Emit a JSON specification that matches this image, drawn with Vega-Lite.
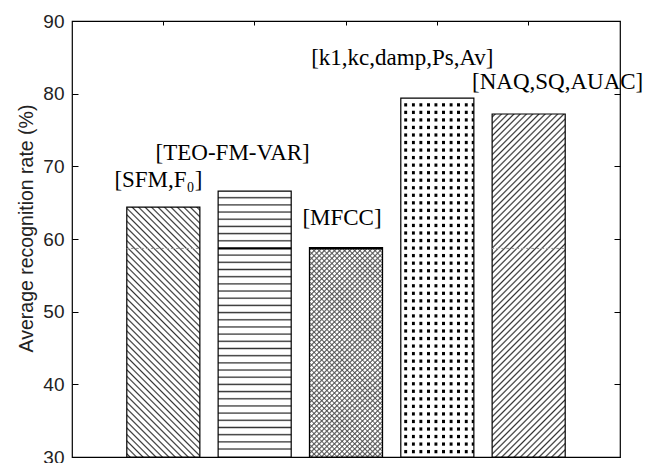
{
"$schema":"https://vega.github.io/schema/vega-lite/v6.json",
"width":548,"height":436,
"autosize":{"type":"none"},
"padding":{"left":72,"top":21,"right":25,"bottom":6},
"background":"white",
"data":{"values":[
{"cat":"SFM","label":"[SFM,F₀]","rate":64.4},
{"cat":"TEO","label":"[TEO-FM-VAR]","rate":66.6},
{"cat":"MFCC","label":"[MFCC]","rate":58.8},
{"cat":"k1","label":"[k1,kc,damp,Ps,Av]","rate":79.4},
{"cat":"NAQ","label":"[NAQ,SQ,AUAC]","rate":77.2}
]},
"encoding":{
"x":{"field":"cat","type":"nominal","sort":null,"scale":{"domain":["SFM","TEO","MFCC","k1","NAQ"],"paddingInner":0.2,"paddingOuter":0.6},"axis":null},
"y":{"field":"rate","type":"quantitative","scale":{"domain":[30,90],"nice":false,"zero":false},"axis":null}
},
"layer":[
{"transform":[{"filter":"datum.cat==='SFM'"}],
"mark":{"type":"bar","stroke":"black","strokeWidth":1.2,"fill":{"gradient":"linear","x1":0,"y1":1,"x2":0.348,"y2":-0.1906,"stops":[
{"offset":0.005,"color":"#fff"},{"offset":0.01,"color":"#333"},{"offset":0.015,"color":"#fff"},
{"offset":0.025,"color":"#fff"},{"offset":0.03,"color":"#333"},{"offset":0.035,"color":"#fff"},
{"offset":0.045,"color":"#fff"},{"offset":0.05,"color":"#333"},{"offset":0.055,"color":"#fff"},
{"offset":0.065,"color":"#fff"},{"offset":0.07,"color":"#333"},{"offset":0.075,"color":"#fff"},
{"offset":0.085,"color":"#fff"},{"offset":0.09,"color":"#333"},{"offset":0.095,"color":"#fff"},
{"offset":0.105,"color":"#fff"},{"offset":0.11,"color":"#333"},{"offset":0.115,"color":"#fff"},
{"offset":0.125,"color":"#fff"},{"offset":0.13,"color":"#333"},{"offset":0.135,"color":"#fff"},
{"offset":0.145,"color":"#fff"},{"offset":0.15,"color":"#333"},{"offset":0.155,"color":"#fff"},
{"offset":0.165,"color":"#fff"},{"offset":0.17,"color":"#333"},{"offset":0.175,"color":"#fff"},
{"offset":0.185,"color":"#fff"},{"offset":0.19,"color":"#333"},{"offset":0.195,"color":"#fff"},
{"offset":0.205,"color":"#fff"},{"offset":0.21,"color":"#333"},{"offset":0.215,"color":"#fff"},
{"offset":0.225,"color":"#fff"},{"offset":0.23,"color":"#333"},{"offset":0.235,"color":"#fff"},
{"offset":0.245,"color":"#fff"},{"offset":0.25,"color":"#333"},{"offset":0.255,"color":"#fff"},
{"offset":0.265,"color":"#fff"},{"offset":0.27,"color":"#333"},{"offset":0.275,"color":"#fff"},
{"offset":0.285,"color":"#fff"},{"offset":0.29,"color":"#333"},{"offset":0.295,"color":"#fff"},
{"offset":0.305,"color":"#fff"},{"offset":0.31,"color":"#333"},{"offset":0.315,"color":"#fff"},
{"offset":0.325,"color":"#fff"},{"offset":0.33,"color":"#333"},{"offset":0.335,"color":"#fff"},
{"offset":0.345,"color":"#fff"},{"offset":0.35,"color":"#333"},{"offset":0.355,"color":"#fff"},
{"offset":0.365,"color":"#fff"},{"offset":0.37,"color":"#333"},{"offset":0.375,"color":"#fff"},
{"offset":0.385,"color":"#fff"},{"offset":0.39,"color":"#333"},{"offset":0.395,"color":"#fff"},
{"offset":0.405,"color":"#fff"},{"offset":0.41,"color":"#333"},{"offset":0.415,"color":"#fff"},
{"offset":0.425,"color":"#fff"},{"offset":0.43,"color":"#333"},{"offset":0.435,"color":"#fff"},
{"offset":0.445,"color":"#fff"},{"offset":0.45,"color":"#333"},{"offset":0.455,"color":"#fff"},
{"offset":0.465,"color":"#fff"},{"offset":0.47,"color":"#333"},{"offset":0.475,"color":"#fff"},
{"offset":0.485,"color":"#fff"},{"offset":0.49,"color":"#333"},{"offset":0.495,"color":"#fff"},
{"offset":0.505,"color":"#fff"},{"offset":0.51,"color":"#333"},{"offset":0.515,"color":"#fff"},
{"offset":0.525,"color":"#fff"},{"offset":0.53,"color":"#333"},{"offset":0.535,"color":"#fff"},
{"offset":0.545,"color":"#fff"},{"offset":0.55,"color":"#333"},{"offset":0.555,"color":"#fff"},
{"offset":0.565,"color":"#fff"},{"offset":0.57,"color":"#333"},{"offset":0.575,"color":"#fff"},
{"offset":0.585,"color":"#fff"},{"offset":0.59,"color":"#333"},{"offset":0.595,"color":"#fff"},
{"offset":0.605,"color":"#fff"},{"offset":0.61,"color":"#333"},{"offset":0.615,"color":"#fff"},
{"offset":0.625,"color":"#fff"},{"offset":0.63,"color":"#333"},{"offset":0.635,"color":"#fff"},
{"offset":0.645,"color":"#fff"},{"offset":0.65,"color":"#333"},{"offset":0.655,"color":"#fff"},
{"offset":0.665,"color":"#fff"},{"offset":0.67,"color":"#333"},{"offset":0.675,"color":"#fff"},
{"offset":0.685,"color":"#fff"},{"offset":0.69,"color":"#333"},{"offset":0.695,"color":"#fff"},
{"offset":0.705,"color":"#fff"},{"offset":0.71,"color":"#333"},{"offset":0.715,"color":"#fff"},
{"offset":0.725,"color":"#fff"},{"offset":0.73,"color":"#333"},{"offset":0.735,"color":"#fff"},
{"offset":0.745,"color":"#fff"},{"offset":0.75,"color":"#333"},{"offset":0.755,"color":"#fff"},
{"offset":0.765,"color":"#fff"},{"offset":0.77,"color":"#333"},{"offset":0.775,"color":"#fff"},
{"offset":0.785,"color":"#fff"},{"offset":0.79,"color":"#333"},{"offset":0.795,"color":"#fff"},
{"offset":0.805,"color":"#fff"},{"offset":0.81,"color":"#333"},{"offset":0.815,"color":"#fff"},
{"offset":0.825,"color":"#fff"},{"offset":0.83,"color":"#333"},{"offset":0.835,"color":"#fff"},
{"offset":0.845,"color":"#fff"},{"offset":0.85,"color":"#333"},{"offset":0.855,"color":"#fff"},
{"offset":0.865,"color":"#fff"},{"offset":0.87,"color":"#333"},{"offset":0.875,"color":"#fff"},
{"offset":0.885,"color":"#fff"},{"offset":0.89,"color":"#333"},{"offset":0.895,"color":"#fff"},
{"offset":0.905,"color":"#fff"},{"offset":0.91,"color":"#333"},{"offset":0.915,"color":"#fff"},
{"offset":0.925,"color":"#fff"},{"offset":0.93,"color":"#333"},{"offset":0.935,"color":"#fff"},
{"offset":0.945,"color":"#fff"},{"offset":0.95,"color":"#333"},{"offset":0.955,"color":"#fff"},
{"offset":0.965,"color":"#fff"},{"offset":0.97,"color":"#333"},{"offset":0.975,"color":"#fff"},
{"offset":0.985,"color":"#fff"},{"offset":0.99,"color":"#333"},{"offset":0.995,"color":"#fff"}
]}},
"encoding":{
"x":{"field":"cat","type":"nominal","sort":null,"scale":{"domain":["SFM","TEO","MFCC","k1","NAQ"],"paddingInner":0.2,"paddingOuter":0.6},"axis":{"orient":"top","labels":false,"domain":false,"grid":false,"title":null,"tickSize":-4,"bandPosition":0.5,"tickColor":"black"}},
"y":{"field":"rate","type":"quantitative","scale":{"domain":[30,90],"nice":false,"zero":false},"axis":{"orient":"left","values":[30,40,50,60,70,80,90],"tickSize":-6,"tickColor":"black","domain":false,"grid":false,"labelPadding":14,"labelFont":"Liberation Sans","labelFontSize":19,"labelColor":"#222","title":"Average recognition rate (%)","titleFont":"Liberation Sans","titleFontSize":19.5,"titleFontWeight":"normal","titleColor":"#222","titlePadding":6,"titleY":207}},
"y2":{"datum":30}}},
{"transform":[{"filter":"datum.cat==='TEO'"}],
"mark":{"type":"bar","stroke":"black","strokeWidth":1.2,"fill":{"gradient":"linear","x1":0,"y1":0,"x2":0,"y2":1,"stops":[
{"offset":0.02,"color":"#fff"},{"offset":0.025,"color":"#333"},{"offset":0.03,"color":"#fff"},
{"offset":0.047,"color":"#fff"},{"offset":0.052,"color":"#333"},{"offset":0.057,"color":"#fff"},
{"offset":0.074,"color":"#fff"},{"offset":0.079,"color":"#333"},{"offset":0.084,"color":"#fff"},
{"offset":0.101,"color":"#fff"},{"offset":0.106,"color":"#333"},{"offset":0.111,"color":"#fff"},
{"offset":0.128,"color":"#fff"},{"offset":0.133,"color":"#333"},{"offset":0.138,"color":"#fff"},
{"offset":0.155,"color":"#fff"},{"offset":0.16,"color":"#333"},{"offset":0.165,"color":"#fff"},
{"offset":0.182,"color":"#fff"},{"offset":0.187,"color":"#333"},{"offset":0.192,"color":"#fff"},
{"offset":0.209,"color":"#fff"},{"offset":0.214,"color":"#333"},{"offset":0.219,"color":"#fff"},
{"offset":0.236,"color":"#fff"},{"offset":0.241,"color":"#333"},{"offset":0.246,"color":"#fff"},
{"offset":0.263,"color":"#fff"},{"offset":0.268,"color":"#333"},{"offset":0.273,"color":"#fff"},
{"offset":0.29,"color":"#fff"},{"offset":0.295,"color":"#333"},{"offset":0.3,"color":"#fff"},
{"offset":0.317,"color":"#fff"},{"offset":0.322,"color":"#333"},{"offset":0.327,"color":"#fff"},
{"offset":0.344,"color":"#fff"},{"offset":0.349,"color":"#333"},{"offset":0.354,"color":"#fff"},
{"offset":0.371,"color":"#fff"},{"offset":0.376,"color":"#333"},{"offset":0.381,"color":"#fff"},
{"offset":0.398,"color":"#fff"},{"offset":0.403,"color":"#333"},{"offset":0.408,"color":"#fff"},
{"offset":0.425,"color":"#fff"},{"offset":0.43,"color":"#333"},{"offset":0.435,"color":"#fff"},
{"offset":0.452,"color":"#fff"},{"offset":0.457,"color":"#333"},{"offset":0.462,"color":"#fff"},
{"offset":0.479,"color":"#fff"},{"offset":0.484,"color":"#333"},{"offset":0.489,"color":"#fff"},
{"offset":0.506,"color":"#fff"},{"offset":0.511,"color":"#333"},{"offset":0.516,"color":"#fff"},
{"offset":0.533,"color":"#fff"},{"offset":0.538,"color":"#333"},{"offset":0.543,"color":"#fff"},
{"offset":0.56,"color":"#fff"},{"offset":0.565,"color":"#333"},{"offset":0.57,"color":"#fff"},
{"offset":0.587,"color":"#fff"},{"offset":0.592,"color":"#333"},{"offset":0.597,"color":"#fff"},
{"offset":0.614,"color":"#fff"},{"offset":0.619,"color":"#333"},{"offset":0.624,"color":"#fff"},
{"offset":0.641,"color":"#fff"},{"offset":0.646,"color":"#333"},{"offset":0.651,"color":"#fff"},
{"offset":0.668,"color":"#fff"},{"offset":0.673,"color":"#333"},{"offset":0.678,"color":"#fff"},
{"offset":0.695,"color":"#fff"},{"offset":0.7,"color":"#333"},{"offset":0.705,"color":"#fff"},
{"offset":0.722,"color":"#fff"},{"offset":0.727,"color":"#333"},{"offset":0.732,"color":"#fff"},
{"offset":0.749,"color":"#fff"},{"offset":0.754,"color":"#333"},{"offset":0.759,"color":"#fff"},
{"offset":0.776,"color":"#fff"},{"offset":0.781,"color":"#333"},{"offset":0.786,"color":"#fff"},
{"offset":0.803,"color":"#fff"},{"offset":0.808,"color":"#333"},{"offset":0.813,"color":"#fff"},
{"offset":0.83,"color":"#fff"},{"offset":0.835,"color":"#333"},{"offset":0.84,"color":"#fff"},
{"offset":0.857,"color":"#fff"},{"offset":0.862,"color":"#333"},{"offset":0.867,"color":"#fff"},
{"offset":0.884,"color":"#fff"},{"offset":0.889,"color":"#333"},{"offset":0.894,"color":"#fff"},
{"offset":0.911,"color":"#fff"},{"offset":0.916,"color":"#333"},{"offset":0.921,"color":"#fff"},
{"offset":0.938,"color":"#fff"},{"offset":0.943,"color":"#333"},{"offset":0.948,"color":"#fff"},
{"offset":0.965,"color":"#fff"},{"offset":0.97,"color":"#333"},{"offset":0.975,"color":"#fff"}
]}},
"encoding":{
"y":{"field":"rate","type":"quantitative","scale":{"domain":[30,90],"nice":false,"zero":false},"axis":{"orient":"right","values":[30,40,50,60,70,80,90],"tickSize":-6,"tickColor":"black","labels":false,"domain":false,"grid":false,"title":null}},
"y2":{"datum":30}}},
{"transform":[{"filter":"datum.cat==='MFCC'"}],
"mark":{"type":"bar","strokeWidth":0,"fill":{"gradient":"linear","x1":0,"y1":1,"x2":0.4199,"y2":-0.2026,"stops":[
{"offset":0.004,"color":"#fff"},{"offset":0.009,"color":"#666"},{"offset":0.014,"color":"#fff"},
{"offset":0.022,"color":"#fff"},{"offset":0.027,"color":"#666"},{"offset":0.032,"color":"#fff"},
{"offset":0.04,"color":"#fff"},{"offset":0.045,"color":"#666"},{"offset":0.05,"color":"#fff"},
{"offset":0.058,"color":"#fff"},{"offset":0.063,"color":"#666"},{"offset":0.068,"color":"#fff"},
{"offset":0.076,"color":"#fff"},{"offset":0.081,"color":"#666"},{"offset":0.086,"color":"#fff"},
{"offset":0.094,"color":"#fff"},{"offset":0.099,"color":"#666"},{"offset":0.104,"color":"#fff"},
{"offset":0.112,"color":"#fff"},{"offset":0.117,"color":"#666"},{"offset":0.122,"color":"#fff"},
{"offset":0.13,"color":"#fff"},{"offset":0.135,"color":"#666"},{"offset":0.14,"color":"#fff"},
{"offset":0.148,"color":"#fff"},{"offset":0.153,"color":"#666"},{"offset":0.158,"color":"#fff"},
{"offset":0.166,"color":"#fff"},{"offset":0.171,"color":"#666"},{"offset":0.176,"color":"#fff"},
{"offset":0.184,"color":"#fff"},{"offset":0.189,"color":"#666"},{"offset":0.194,"color":"#fff"},
{"offset":0.202,"color":"#fff"},{"offset":0.207,"color":"#666"},{"offset":0.212,"color":"#fff"},
{"offset":0.22,"color":"#fff"},{"offset":0.225,"color":"#666"},{"offset":0.23,"color":"#fff"},
{"offset":0.238,"color":"#fff"},{"offset":0.243,"color":"#666"},{"offset":0.248,"color":"#fff"},
{"offset":0.256,"color":"#fff"},{"offset":0.261,"color":"#666"},{"offset":0.266,"color":"#fff"},
{"offset":0.274,"color":"#fff"},{"offset":0.279,"color":"#666"},{"offset":0.284,"color":"#fff"},
{"offset":0.292,"color":"#fff"},{"offset":0.297,"color":"#666"},{"offset":0.302,"color":"#fff"},
{"offset":0.31,"color":"#fff"},{"offset":0.315,"color":"#666"},{"offset":0.32,"color":"#fff"},
{"offset":0.328,"color":"#fff"},{"offset":0.333,"color":"#666"},{"offset":0.338,"color":"#fff"},
{"offset":0.346,"color":"#fff"},{"offset":0.351,"color":"#666"},{"offset":0.356,"color":"#fff"},
{"offset":0.364,"color":"#fff"},{"offset":0.369,"color":"#666"},{"offset":0.374,"color":"#fff"},
{"offset":0.382,"color":"#fff"},{"offset":0.387,"color":"#666"},{"offset":0.392,"color":"#fff"},
{"offset":0.4,"color":"#fff"},{"offset":0.405,"color":"#666"},{"offset":0.41,"color":"#fff"},
{"offset":0.418,"color":"#fff"},{"offset":0.423,"color":"#666"},{"offset":0.428,"color":"#fff"},
{"offset":0.436,"color":"#fff"},{"offset":0.441,"color":"#666"},{"offset":0.446,"color":"#fff"},
{"offset":0.454,"color":"#fff"},{"offset":0.459,"color":"#666"},{"offset":0.464,"color":"#fff"},
{"offset":0.472,"color":"#fff"},{"offset":0.477,"color":"#666"},{"offset":0.482,"color":"#fff"},
{"offset":0.49,"color":"#fff"},{"offset":0.495,"color":"#666"},{"offset":0.5,"color":"#fff"},
{"offset":0.508,"color":"#fff"},{"offset":0.513,"color":"#666"},{"offset":0.518,"color":"#fff"},
{"offset":0.526,"color":"#fff"},{"offset":0.531,"color":"#666"},{"offset":0.536,"color":"#fff"},
{"offset":0.544,"color":"#fff"},{"offset":0.549,"color":"#666"},{"offset":0.554,"color":"#fff"},
{"offset":0.562,"color":"#fff"},{"offset":0.567,"color":"#666"},{"offset":0.572,"color":"#fff"},
{"offset":0.58,"color":"#fff"},{"offset":0.585,"color":"#666"},{"offset":0.59,"color":"#fff"},
{"offset":0.598,"color":"#fff"},{"offset":0.603,"color":"#666"},{"offset":0.608,"color":"#fff"},
{"offset":0.616,"color":"#fff"},{"offset":0.621,"color":"#666"},{"offset":0.626,"color":"#fff"},
{"offset":0.634,"color":"#fff"},{"offset":0.639,"color":"#666"},{"offset":0.644,"color":"#fff"},
{"offset":0.652,"color":"#fff"},{"offset":0.657,"color":"#666"},{"offset":0.662,"color":"#fff"},
{"offset":0.67,"color":"#fff"},{"offset":0.675,"color":"#666"},{"offset":0.68,"color":"#fff"},
{"offset":0.688,"color":"#fff"},{"offset":0.693,"color":"#666"},{"offset":0.698,"color":"#fff"},
{"offset":0.706,"color":"#fff"},{"offset":0.711,"color":"#666"},{"offset":0.716,"color":"#fff"},
{"offset":0.724,"color":"#fff"},{"offset":0.729,"color":"#666"},{"offset":0.734,"color":"#fff"},
{"offset":0.742,"color":"#fff"},{"offset":0.747,"color":"#666"},{"offset":0.752,"color":"#fff"},
{"offset":0.76,"color":"#fff"},{"offset":0.765,"color":"#666"},{"offset":0.77,"color":"#fff"},
{"offset":0.778,"color":"#fff"},{"offset":0.783,"color":"#666"},{"offset":0.788,"color":"#fff"},
{"offset":0.796,"color":"#fff"},{"offset":0.801,"color":"#666"},{"offset":0.806,"color":"#fff"},
{"offset":0.814,"color":"#fff"},{"offset":0.819,"color":"#666"},{"offset":0.824,"color":"#fff"},
{"offset":0.832,"color":"#fff"},{"offset":0.837,"color":"#666"},{"offset":0.842,"color":"#fff"},
{"offset":0.85,"color":"#fff"},{"offset":0.855,"color":"#666"},{"offset":0.86,"color":"#fff"},
{"offset":0.868,"color":"#fff"},{"offset":0.873,"color":"#666"},{"offset":0.878,"color":"#fff"},
{"offset":0.886,"color":"#fff"},{"offset":0.891,"color":"#666"},{"offset":0.896,"color":"#fff"},
{"offset":0.904,"color":"#fff"},{"offset":0.909,"color":"#666"},{"offset":0.914,"color":"#fff"},
{"offset":0.922,"color":"#fff"},{"offset":0.927,"color":"#666"},{"offset":0.932,"color":"#fff"},
{"offset":0.94,"color":"#fff"},{"offset":0.945,"color":"#666"},{"offset":0.95,"color":"#fff"},
{"offset":0.958,"color":"#fff"},{"offset":0.963,"color":"#666"},{"offset":0.968,"color":"#fff"},
{"offset":0.976,"color":"#fff"},{"offset":0.981,"color":"#666"},{"offset":0.986,"color":"#fff"}
]}},
"encoding":{"y2":{"datum":30}}},
{"transform":[{"filter":"datum.cat==='MFCC'"}],
"mark":{"type":"bar","stroke":"black","strokeWidth":1.2,"fill":{"gradient":"linear","x1":0,"y1":0,"x2":0.4199,"y2":1.2026,"stops":[
{"offset":0.004,"color":"rgba(0,0,0,0)"},{"offset":0.009,"color":"#666"},{"offset":0.014,"color":"rgba(0,0,0,0)"},
{"offset":0.022,"color":"rgba(0,0,0,0)"},{"offset":0.027,"color":"#666"},{"offset":0.032,"color":"rgba(0,0,0,0)"},
{"offset":0.04,"color":"rgba(0,0,0,0)"},{"offset":0.045,"color":"#666"},{"offset":0.05,"color":"rgba(0,0,0,0)"},
{"offset":0.058,"color":"rgba(0,0,0,0)"},{"offset":0.063,"color":"#666"},{"offset":0.068,"color":"rgba(0,0,0,0)"},
{"offset":0.076,"color":"rgba(0,0,0,0)"},{"offset":0.081,"color":"#666"},{"offset":0.086,"color":"rgba(0,0,0,0)"},
{"offset":0.094,"color":"rgba(0,0,0,0)"},{"offset":0.099,"color":"#666"},{"offset":0.104,"color":"rgba(0,0,0,0)"},
{"offset":0.112,"color":"rgba(0,0,0,0)"},{"offset":0.117,"color":"#666"},{"offset":0.122,"color":"rgba(0,0,0,0)"},
{"offset":0.13,"color":"rgba(0,0,0,0)"},{"offset":0.135,"color":"#666"},{"offset":0.14,"color":"rgba(0,0,0,0)"},
{"offset":0.148,"color":"rgba(0,0,0,0)"},{"offset":0.153,"color":"#666"},{"offset":0.158,"color":"rgba(0,0,0,0)"},
{"offset":0.166,"color":"rgba(0,0,0,0)"},{"offset":0.171,"color":"#666"},{"offset":0.176,"color":"rgba(0,0,0,0)"},
{"offset":0.184,"color":"rgba(0,0,0,0)"},{"offset":0.189,"color":"#666"},{"offset":0.194,"color":"rgba(0,0,0,0)"},
{"offset":0.202,"color":"rgba(0,0,0,0)"},{"offset":0.207,"color":"#666"},{"offset":0.212,"color":"rgba(0,0,0,0)"},
{"offset":0.22,"color":"rgba(0,0,0,0)"},{"offset":0.225,"color":"#666"},{"offset":0.23,"color":"rgba(0,0,0,0)"},
{"offset":0.238,"color":"rgba(0,0,0,0)"},{"offset":0.243,"color":"#666"},{"offset":0.248,"color":"rgba(0,0,0,0)"},
{"offset":0.256,"color":"rgba(0,0,0,0)"},{"offset":0.261,"color":"#666"},{"offset":0.266,"color":"rgba(0,0,0,0)"},
{"offset":0.274,"color":"rgba(0,0,0,0)"},{"offset":0.279,"color":"#666"},{"offset":0.284,"color":"rgba(0,0,0,0)"},
{"offset":0.292,"color":"rgba(0,0,0,0)"},{"offset":0.297,"color":"#666"},{"offset":0.302,"color":"rgba(0,0,0,0)"},
{"offset":0.31,"color":"rgba(0,0,0,0)"},{"offset":0.315,"color":"#666"},{"offset":0.32,"color":"rgba(0,0,0,0)"},
{"offset":0.328,"color":"rgba(0,0,0,0)"},{"offset":0.333,"color":"#666"},{"offset":0.338,"color":"rgba(0,0,0,0)"},
{"offset":0.346,"color":"rgba(0,0,0,0)"},{"offset":0.351,"color":"#666"},{"offset":0.356,"color":"rgba(0,0,0,0)"},
{"offset":0.364,"color":"rgba(0,0,0,0)"},{"offset":0.369,"color":"#666"},{"offset":0.374,"color":"rgba(0,0,0,0)"},
{"offset":0.382,"color":"rgba(0,0,0,0)"},{"offset":0.387,"color":"#666"},{"offset":0.392,"color":"rgba(0,0,0,0)"},
{"offset":0.4,"color":"rgba(0,0,0,0)"},{"offset":0.405,"color":"#666"},{"offset":0.41,"color":"rgba(0,0,0,0)"},
{"offset":0.418,"color":"rgba(0,0,0,0)"},{"offset":0.423,"color":"#666"},{"offset":0.428,"color":"rgba(0,0,0,0)"},
{"offset":0.436,"color":"rgba(0,0,0,0)"},{"offset":0.441,"color":"#666"},{"offset":0.446,"color":"rgba(0,0,0,0)"},
{"offset":0.454,"color":"rgba(0,0,0,0)"},{"offset":0.459,"color":"#666"},{"offset":0.464,"color":"rgba(0,0,0,0)"},
{"offset":0.472,"color":"rgba(0,0,0,0)"},{"offset":0.477,"color":"#666"},{"offset":0.482,"color":"rgba(0,0,0,0)"},
{"offset":0.49,"color":"rgba(0,0,0,0)"},{"offset":0.495,"color":"#666"},{"offset":0.5,"color":"rgba(0,0,0,0)"},
{"offset":0.508,"color":"rgba(0,0,0,0)"},{"offset":0.513,"color":"#666"},{"offset":0.518,"color":"rgba(0,0,0,0)"},
{"offset":0.526,"color":"rgba(0,0,0,0)"},{"offset":0.531,"color":"#666"},{"offset":0.536,"color":"rgba(0,0,0,0)"},
{"offset":0.544,"color":"rgba(0,0,0,0)"},{"offset":0.549,"color":"#666"},{"offset":0.554,"color":"rgba(0,0,0,0)"},
{"offset":0.562,"color":"rgba(0,0,0,0)"},{"offset":0.567,"color":"#666"},{"offset":0.572,"color":"rgba(0,0,0,0)"},
{"offset":0.58,"color":"rgba(0,0,0,0)"},{"offset":0.585,"color":"#666"},{"offset":0.59,"color":"rgba(0,0,0,0)"},
{"offset":0.598,"color":"rgba(0,0,0,0)"},{"offset":0.603,"color":"#666"},{"offset":0.608,"color":"rgba(0,0,0,0)"},
{"offset":0.616,"color":"rgba(0,0,0,0)"},{"offset":0.621,"color":"#666"},{"offset":0.626,"color":"rgba(0,0,0,0)"},
{"offset":0.634,"color":"rgba(0,0,0,0)"},{"offset":0.639,"color":"#666"},{"offset":0.644,"color":"rgba(0,0,0,0)"},
{"offset":0.652,"color":"rgba(0,0,0,0)"},{"offset":0.657,"color":"#666"},{"offset":0.662,"color":"rgba(0,0,0,0)"},
{"offset":0.67,"color":"rgba(0,0,0,0)"},{"offset":0.675,"color":"#666"},{"offset":0.68,"color":"rgba(0,0,0,0)"},
{"offset":0.688,"color":"rgba(0,0,0,0)"},{"offset":0.693,"color":"#666"},{"offset":0.698,"color":"rgba(0,0,0,0)"},
{"offset":0.706,"color":"rgba(0,0,0,0)"},{"offset":0.711,"color":"#666"},{"offset":0.716,"color":"rgba(0,0,0,0)"},
{"offset":0.724,"color":"rgba(0,0,0,0)"},{"offset":0.729,"color":"#666"},{"offset":0.734,"color":"rgba(0,0,0,0)"},
{"offset":0.742,"color":"rgba(0,0,0,0)"},{"offset":0.747,"color":"#666"},{"offset":0.752,"color":"rgba(0,0,0,0)"},
{"offset":0.76,"color":"rgba(0,0,0,0)"},{"offset":0.765,"color":"#666"},{"offset":0.77,"color":"rgba(0,0,0,0)"},
{"offset":0.778,"color":"rgba(0,0,0,0)"},{"offset":0.783,"color":"#666"},{"offset":0.788,"color":"rgba(0,0,0,0)"},
{"offset":0.796,"color":"rgba(0,0,0,0)"},{"offset":0.801,"color":"#666"},{"offset":0.806,"color":"rgba(0,0,0,0)"},
{"offset":0.814,"color":"rgba(0,0,0,0)"},{"offset":0.819,"color":"#666"},{"offset":0.824,"color":"rgba(0,0,0,0)"},
{"offset":0.832,"color":"rgba(0,0,0,0)"},{"offset":0.837,"color":"#666"},{"offset":0.842,"color":"rgba(0,0,0,0)"},
{"offset":0.85,"color":"rgba(0,0,0,0)"},{"offset":0.855,"color":"#666"},{"offset":0.86,"color":"rgba(0,0,0,0)"},
{"offset":0.868,"color":"rgba(0,0,0,0)"},{"offset":0.873,"color":"#666"},{"offset":0.878,"color":"rgba(0,0,0,0)"},
{"offset":0.886,"color":"rgba(0,0,0,0)"},{"offset":0.891,"color":"#666"},{"offset":0.896,"color":"rgba(0,0,0,0)"},
{"offset":0.904,"color":"rgba(0,0,0,0)"},{"offset":0.909,"color":"#666"},{"offset":0.914,"color":"rgba(0,0,0,0)"},
{"offset":0.922,"color":"rgba(0,0,0,0)"},{"offset":0.927,"color":"#666"},{"offset":0.932,"color":"rgba(0,0,0,0)"},
{"offset":0.94,"color":"rgba(0,0,0,0)"},{"offset":0.945,"color":"#666"},{"offset":0.95,"color":"rgba(0,0,0,0)"},
{"offset":0.958,"color":"rgba(0,0,0,0)"},{"offset":0.963,"color":"#666"},{"offset":0.968,"color":"rgba(0,0,0,0)"},
{"offset":0.976,"color":"rgba(0,0,0,0)"},{"offset":0.981,"color":"#666"},{"offset":0.986,"color":"rgba(0,0,0,0)"}
]}},
"encoding":{"y2":{"datum":30}}},
{"transform":[{"filter":"datum.cat==='k1'"}],
"mark":{"type":"bar","strokeWidth":0,"fill":{"gradient":"linear","x1":0,"y1":0,"x2":0,"y2":1,"stops":[
{"offset":0.013,"color":"#fff"},{"offset":0.016,"color":"#000"},{"offset":0.022,"color":"#000"},{"offset":0.025,"color":"#fff"},
{"offset":0.034,"color":"#fff"},{"offset":0.037,"color":"#000"},{"offset":0.043,"color":"#000"},{"offset":0.046,"color":"#fff"},
{"offset":0.055,"color":"#fff"},{"offset":0.058,"color":"#000"},{"offset":0.064,"color":"#000"},{"offset":0.067,"color":"#fff"},
{"offset":0.076,"color":"#fff"},{"offset":0.079,"color":"#000"},{"offset":0.085,"color":"#000"},{"offset":0.088,"color":"#fff"},
{"offset":0.097,"color":"#fff"},{"offset":0.1,"color":"#000"},{"offset":0.106,"color":"#000"},{"offset":0.109,"color":"#fff"},
{"offset":0.118,"color":"#fff"},{"offset":0.121,"color":"#000"},{"offset":0.127,"color":"#000"},{"offset":0.13,"color":"#fff"},
{"offset":0.139,"color":"#fff"},{"offset":0.142,"color":"#000"},{"offset":0.148,"color":"#000"},{"offset":0.151,"color":"#fff"},
{"offset":0.16,"color":"#fff"},{"offset":0.163,"color":"#000"},{"offset":0.169,"color":"#000"},{"offset":0.172,"color":"#fff"},
{"offset":0.181,"color":"#fff"},{"offset":0.184,"color":"#000"},{"offset":0.19,"color":"#000"},{"offset":0.193,"color":"#fff"},
{"offset":0.202,"color":"#fff"},{"offset":0.205,"color":"#000"},{"offset":0.211,"color":"#000"},{"offset":0.214,"color":"#fff"},
{"offset":0.223,"color":"#fff"},{"offset":0.226,"color":"#000"},{"offset":0.232,"color":"#000"},{"offset":0.235,"color":"#fff"},
{"offset":0.244,"color":"#fff"},{"offset":0.247,"color":"#000"},{"offset":0.253,"color":"#000"},{"offset":0.256,"color":"#fff"},
{"offset":0.265,"color":"#fff"},{"offset":0.268,"color":"#000"},{"offset":0.274,"color":"#000"},{"offset":0.277,"color":"#fff"},
{"offset":0.286,"color":"#fff"},{"offset":0.289,"color":"#000"},{"offset":0.295,"color":"#000"},{"offset":0.298,"color":"#fff"},
{"offset":0.307,"color":"#fff"},{"offset":0.31,"color":"#000"},{"offset":0.316,"color":"#000"},{"offset":0.319,"color":"#fff"},
{"offset":0.328,"color":"#fff"},{"offset":0.331,"color":"#000"},{"offset":0.337,"color":"#000"},{"offset":0.34,"color":"#fff"},
{"offset":0.349,"color":"#fff"},{"offset":0.352,"color":"#000"},{"offset":0.358,"color":"#000"},{"offset":0.361,"color":"#fff"},
{"offset":0.37,"color":"#fff"},{"offset":0.373,"color":"#000"},{"offset":0.379,"color":"#000"},{"offset":0.382,"color":"#fff"},
{"offset":0.391,"color":"#fff"},{"offset":0.394,"color":"#000"},{"offset":0.4,"color":"#000"},{"offset":0.403,"color":"#fff"},
{"offset":0.412,"color":"#fff"},{"offset":0.415,"color":"#000"},{"offset":0.421,"color":"#000"},{"offset":0.424,"color":"#fff"},
{"offset":0.433,"color":"#fff"},{"offset":0.436,"color":"#000"},{"offset":0.442,"color":"#000"},{"offset":0.445,"color":"#fff"},
{"offset":0.454,"color":"#fff"},{"offset":0.457,"color":"#000"},{"offset":0.463,"color":"#000"},{"offset":0.466,"color":"#fff"},
{"offset":0.475,"color":"#fff"},{"offset":0.478,"color":"#000"},{"offset":0.484,"color":"#000"},{"offset":0.487,"color":"#fff"},
{"offset":0.496,"color":"#fff"},{"offset":0.499,"color":"#000"},{"offset":0.505,"color":"#000"},{"offset":0.508,"color":"#fff"},
{"offset":0.517,"color":"#fff"},{"offset":0.52,"color":"#000"},{"offset":0.526,"color":"#000"},{"offset":0.529,"color":"#fff"},
{"offset":0.538,"color":"#fff"},{"offset":0.541,"color":"#000"},{"offset":0.547,"color":"#000"},{"offset":0.55,"color":"#fff"},
{"offset":0.559,"color":"#fff"},{"offset":0.562,"color":"#000"},{"offset":0.568,"color":"#000"},{"offset":0.571,"color":"#fff"},
{"offset":0.58,"color":"#fff"},{"offset":0.583,"color":"#000"},{"offset":0.589,"color":"#000"},{"offset":0.592,"color":"#fff"},
{"offset":0.601,"color":"#fff"},{"offset":0.604,"color":"#000"},{"offset":0.61,"color":"#000"},{"offset":0.613,"color":"#fff"},
{"offset":0.622,"color":"#fff"},{"offset":0.625,"color":"#000"},{"offset":0.631,"color":"#000"},{"offset":0.634,"color":"#fff"},
{"offset":0.643,"color":"#fff"},{"offset":0.646,"color":"#000"},{"offset":0.652,"color":"#000"},{"offset":0.655,"color":"#fff"},
{"offset":0.664,"color":"#fff"},{"offset":0.667,"color":"#000"},{"offset":0.673,"color":"#000"},{"offset":0.676,"color":"#fff"},
{"offset":0.685,"color":"#fff"},{"offset":0.688,"color":"#000"},{"offset":0.694,"color":"#000"},{"offset":0.697,"color":"#fff"},
{"offset":0.706,"color":"#fff"},{"offset":0.709,"color":"#000"},{"offset":0.715,"color":"#000"},{"offset":0.718,"color":"#fff"},
{"offset":0.727,"color":"#fff"},{"offset":0.73,"color":"#000"},{"offset":0.736,"color":"#000"},{"offset":0.739,"color":"#fff"},
{"offset":0.748,"color":"#fff"},{"offset":0.751,"color":"#000"},{"offset":0.757,"color":"#000"},{"offset":0.76,"color":"#fff"},
{"offset":0.769,"color":"#fff"},{"offset":0.772,"color":"#000"},{"offset":0.778,"color":"#000"},{"offset":0.781,"color":"#fff"},
{"offset":0.79,"color":"#fff"},{"offset":0.793,"color":"#000"},{"offset":0.799,"color":"#000"},{"offset":0.802,"color":"#fff"},
{"offset":0.811,"color":"#fff"},{"offset":0.814,"color":"#000"},{"offset":0.82,"color":"#000"},{"offset":0.823,"color":"#fff"},
{"offset":0.832,"color":"#fff"},{"offset":0.835,"color":"#000"},{"offset":0.841,"color":"#000"},{"offset":0.844,"color":"#fff"},
{"offset":0.853,"color":"#fff"},{"offset":0.856,"color":"#000"},{"offset":0.862,"color":"#000"},{"offset":0.865,"color":"#fff"},
{"offset":0.874,"color":"#fff"},{"offset":0.877,"color":"#000"},{"offset":0.883,"color":"#000"},{"offset":0.886,"color":"#fff"},
{"offset":0.895,"color":"#fff"},{"offset":0.898,"color":"#000"},{"offset":0.904,"color":"#000"},{"offset":0.907,"color":"#fff"},
{"offset":0.916,"color":"#fff"},{"offset":0.919,"color":"#000"},{"offset":0.925,"color":"#000"},{"offset":0.928,"color":"#fff"},
{"offset":0.937,"color":"#fff"},{"offset":0.94,"color":"#000"},{"offset":0.946,"color":"#000"},{"offset":0.949,"color":"#fff"},
{"offset":0.958,"color":"#fff"},{"offset":0.961,"color":"#000"},{"offset":0.967,"color":"#000"},{"offset":0.97,"color":"#fff"},
{"offset":0.979,"color":"#fff"},{"offset":0.982,"color":"#000"},{"offset":0.988,"color":"#000"},{"offset":0.991,"color":"#fff"}
]}},
"encoding":{"y2":{"datum":30}}},
{"transform":[{"filter":"datum.cat==='k1'"}],
"mark":{"type":"bar","stroke":"black","strokeWidth":1.2,"fill":{"gradient":"linear","x1":0,"y1":0,"x2":1,"y2":0,"stops":[
{"offset":0.043,"color":"#fff"},{"offset":0.053,"color":"rgba(255,255,255,0)"},{"offset":0.083,"color":"rgba(255,255,255,0)"},{"offset":0.093,"color":"#fff"},
{"offset":0.146,"color":"#fff"},{"offset":0.156,"color":"rgba(255,255,255,0)"},{"offset":0.186,"color":"rgba(255,255,255,0)"},{"offset":0.196,"color":"#fff"},
{"offset":0.25,"color":"#fff"},{"offset":0.26,"color":"rgba(255,255,255,0)"},{"offset":0.29,"color":"rgba(255,255,255,0)"},{"offset":0.3,"color":"#fff"},
{"offset":0.353,"color":"#fff"},{"offset":0.363,"color":"rgba(255,255,255,0)"},{"offset":0.393,"color":"rgba(255,255,255,0)"},{"offset":0.403,"color":"#fff"},
{"offset":0.456,"color":"#fff"},{"offset":0.466,"color":"rgba(255,255,255,0)"},{"offset":0.496,"color":"rgba(255,255,255,0)"},{"offset":0.506,"color":"#fff"},
{"offset":0.56,"color":"#fff"},{"offset":0.57,"color":"rgba(255,255,255,0)"},{"offset":0.6,"color":"rgba(255,255,255,0)"},{"offset":0.61,"color":"#fff"},
{"offset":0.663,"color":"#fff"},{"offset":0.673,"color":"rgba(255,255,255,0)"},{"offset":0.703,"color":"rgba(255,255,255,0)"},{"offset":0.713,"color":"#fff"},
{"offset":0.766,"color":"#fff"},{"offset":0.776,"color":"rgba(255,255,255,0)"},{"offset":0.806,"color":"rgba(255,255,255,0)"},{"offset":0.816,"color":"#fff"},
{"offset":0.87,"color":"#fff"},{"offset":0.88,"color":"rgba(255,255,255,0)"},{"offset":0.91,"color":"rgba(255,255,255,0)"},{"offset":0.92,"color":"#fff"},
{"offset":0.965,"color":"#fff"},{"offset":0.975,"color":"rgba(255,255,255,0)"},{"offset":1,"color":"rgba(255,255,255,0)"}
]}},
"encoding":{"y2":{"datum":30}}},
{"transform":[{"filter":"datum.cat==='NAQ'"}],
"mark":{"type":"bar","stroke":"black","strokeWidth":1.2,"fill":{"gradient":"linear","x1":0,"y1":0,"x2":0.2472,"y2":1.1604,"stops":[
{"offset":0.0035,"color":"#fff"},{"offset":0.0075,"color":"#333"},{"offset":0.0115,"color":"#fff"},
{"offset":0.0185,"color":"#fff"},{"offset":0.0225,"color":"#333"},{"offset":0.0265,"color":"#fff"},
{"offset":0.0335,"color":"#fff"},{"offset":0.0375,"color":"#333"},{"offset":0.0415,"color":"#fff"},
{"offset":0.0485,"color":"#fff"},{"offset":0.0525,"color":"#333"},{"offset":0.0565,"color":"#fff"},
{"offset":0.0635,"color":"#fff"},{"offset":0.0675,"color":"#333"},{"offset":0.0715,"color":"#fff"},
{"offset":0.0785,"color":"#fff"},{"offset":0.0825,"color":"#333"},{"offset":0.0865,"color":"#fff"},
{"offset":0.0935,"color":"#fff"},{"offset":0.0975,"color":"#333"},{"offset":0.1015,"color":"#fff"},
{"offset":0.1085,"color":"#fff"},{"offset":0.1125,"color":"#333"},{"offset":0.1165,"color":"#fff"},
{"offset":0.1235,"color":"#fff"},{"offset":0.1275,"color":"#333"},{"offset":0.1315,"color":"#fff"},
{"offset":0.1385,"color":"#fff"},{"offset":0.1425,"color":"#333"},{"offset":0.1465,"color":"#fff"},
{"offset":0.1535,"color":"#fff"},{"offset":0.1575,"color":"#333"},{"offset":0.1615,"color":"#fff"},
{"offset":0.1685,"color":"#fff"},{"offset":0.1725,"color":"#333"},{"offset":0.1765,"color":"#fff"},
{"offset":0.1835,"color":"#fff"},{"offset":0.1875,"color":"#333"},{"offset":0.1915,"color":"#fff"},
{"offset":0.1985,"color":"#fff"},{"offset":0.2025,"color":"#333"},{"offset":0.2065,"color":"#fff"},
{"offset":0.2135,"color":"#fff"},{"offset":0.2175,"color":"#333"},{"offset":0.2215,"color":"#fff"},
{"offset":0.2285,"color":"#fff"},{"offset":0.2325,"color":"#333"},{"offset":0.2365,"color":"#fff"},
{"offset":0.2435,"color":"#fff"},{"offset":0.2475,"color":"#333"},{"offset":0.2515,"color":"#fff"},
{"offset":0.2585,"color":"#fff"},{"offset":0.2625,"color":"#333"},{"offset":0.2665,"color":"#fff"},
{"offset":0.2735,"color":"#fff"},{"offset":0.2775,"color":"#333"},{"offset":0.2815,"color":"#fff"},
{"offset":0.2885,"color":"#fff"},{"offset":0.2925,"color":"#333"},{"offset":0.2965,"color":"#fff"},
{"offset":0.3035,"color":"#fff"},{"offset":0.3075,"color":"#333"},{"offset":0.3115,"color":"#fff"},
{"offset":0.3185,"color":"#fff"},{"offset":0.3225,"color":"#333"},{"offset":0.3265,"color":"#fff"},
{"offset":0.3335,"color":"#fff"},{"offset":0.3375,"color":"#333"},{"offset":0.3415,"color":"#fff"},
{"offset":0.3485,"color":"#fff"},{"offset":0.3525,"color":"#333"},{"offset":0.3565,"color":"#fff"},
{"offset":0.3635,"color":"#fff"},{"offset":0.3675,"color":"#333"},{"offset":0.3715,"color":"#fff"},
{"offset":0.3785,"color":"#fff"},{"offset":0.3825,"color":"#333"},{"offset":0.3865,"color":"#fff"},
{"offset":0.3935,"color":"#fff"},{"offset":0.3975,"color":"#333"},{"offset":0.4015,"color":"#fff"},
{"offset":0.4085,"color":"#fff"},{"offset":0.4125,"color":"#333"},{"offset":0.4165,"color":"#fff"},
{"offset":0.4235,"color":"#fff"},{"offset":0.4275,"color":"#333"},{"offset":0.4315,"color":"#fff"},
{"offset":0.4385,"color":"#fff"},{"offset":0.4425,"color":"#333"},{"offset":0.4465,"color":"#fff"},
{"offset":0.4535,"color":"#fff"},{"offset":0.4575,"color":"#333"},{"offset":0.4615,"color":"#fff"},
{"offset":0.4685,"color":"#fff"},{"offset":0.4725,"color":"#333"},{"offset":0.4765,"color":"#fff"},
{"offset":0.4835,"color":"#fff"},{"offset":0.4875,"color":"#333"},{"offset":0.4915,"color":"#fff"},
{"offset":0.4985,"color":"#fff"},{"offset":0.5025,"color":"#333"},{"offset":0.5065,"color":"#fff"},
{"offset":0.5135,"color":"#fff"},{"offset":0.5175,"color":"#333"},{"offset":0.5215,"color":"#fff"},
{"offset":0.5285,"color":"#fff"},{"offset":0.5325,"color":"#333"},{"offset":0.5365,"color":"#fff"},
{"offset":0.5435,"color":"#fff"},{"offset":0.5475,"color":"#333"},{"offset":0.5515,"color":"#fff"},
{"offset":0.5585,"color":"#fff"},{"offset":0.5625,"color":"#333"},{"offset":0.5665,"color":"#fff"},
{"offset":0.5735,"color":"#fff"},{"offset":0.5775,"color":"#333"},{"offset":0.5815,"color":"#fff"},
{"offset":0.5885,"color":"#fff"},{"offset":0.5925,"color":"#333"},{"offset":0.5965,"color":"#fff"},
{"offset":0.6035,"color":"#fff"},{"offset":0.6075,"color":"#333"},{"offset":0.6115,"color":"#fff"},
{"offset":0.6185,"color":"#fff"},{"offset":0.6225,"color":"#333"},{"offset":0.6265,"color":"#fff"},
{"offset":0.6335,"color":"#fff"},{"offset":0.6375,"color":"#333"},{"offset":0.6415,"color":"#fff"},
{"offset":0.6485,"color":"#fff"},{"offset":0.6525,"color":"#333"},{"offset":0.6565,"color":"#fff"},
{"offset":0.6635,"color":"#fff"},{"offset":0.6675,"color":"#333"},{"offset":0.6715,"color":"#fff"},
{"offset":0.6785,"color":"#fff"},{"offset":0.6825,"color":"#333"},{"offset":0.6865,"color":"#fff"},
{"offset":0.6935,"color":"#fff"},{"offset":0.6975,"color":"#333"},{"offset":0.7015,"color":"#fff"},
{"offset":0.7085,"color":"#fff"},{"offset":0.7125,"color":"#333"},{"offset":0.7165,"color":"#fff"},
{"offset":0.7235,"color":"#fff"},{"offset":0.7275,"color":"#333"},{"offset":0.7315,"color":"#fff"},
{"offset":0.7385,"color":"#fff"},{"offset":0.7425,"color":"#333"},{"offset":0.7465,"color":"#fff"},
{"offset":0.7535,"color":"#fff"},{"offset":0.7575,"color":"#333"},{"offset":0.7615,"color":"#fff"},
{"offset":0.7685,"color":"#fff"},{"offset":0.7725,"color":"#333"},{"offset":0.7765,"color":"#fff"},
{"offset":0.7835,"color":"#fff"},{"offset":0.7875,"color":"#333"},{"offset":0.7915,"color":"#fff"},
{"offset":0.7985,"color":"#fff"},{"offset":0.8025,"color":"#333"},{"offset":0.8065,"color":"#fff"},
{"offset":0.8135,"color":"#fff"},{"offset":0.8175,"color":"#333"},{"offset":0.8215,"color":"#fff"},
{"offset":0.8285,"color":"#fff"},{"offset":0.8325,"color":"#333"},{"offset":0.8365,"color":"#fff"},
{"offset":0.8435,"color":"#fff"},{"offset":0.8475,"color":"#333"},{"offset":0.8515,"color":"#fff"},
{"offset":0.8585,"color":"#fff"},{"offset":0.8625,"color":"#333"},{"offset":0.8665,"color":"#fff"},
{"offset":0.8735,"color":"#fff"},{"offset":0.8775,"color":"#333"},{"offset":0.8815,"color":"#fff"},
{"offset":0.8885,"color":"#fff"},{"offset":0.8925,"color":"#333"},{"offset":0.8965,"color":"#fff"},
{"offset":0.9035,"color":"#fff"},{"offset":0.9075,"color":"#333"},{"offset":0.9115,"color":"#fff"},
{"offset":0.9185,"color":"#fff"},{"offset":0.9225,"color":"#333"},{"offset":0.9265,"color":"#fff"},
{"offset":0.9335,"color":"#fff"},{"offset":0.9375,"color":"#333"},{"offset":0.9415,"color":"#fff"},
{"offset":0.9485,"color":"#fff"},{"offset":0.9525,"color":"#333"},{"offset":0.9565,"color":"#fff"},
{"offset":0.9635,"color":"#fff"},{"offset":0.9675,"color":"#333"},{"offset":0.9715,"color":"#fff"},
{"offset":0.9785,"color":"#fff"},{"offset":0.9825,"color":"#333"},{"offset":0.9865,"color":"#fff"}
]}},
"encoding":{"y2":{"datum":30}}},
{"transform":[{"filter":"datum.cat==='TEO' || datum.cat==='MFCC'"}],
"mark":{"type":"bar","fillOpacity":0,"stroke":"black","strokeWidth":2},
"encoding":{"y":{"datum":58.7,"type":"quantitative","scale":{"domain":[30,90],"nice":false,"zero":false},"axis":null},"y2":{"datum":58.7}}},
{"transform":[{"filter":"datum.cat==='SFM' || datum.cat==='NAQ'"}],
"mark":{"type":"bar","fillOpacity":0,"stroke":"#999","strokeWidth":1,"strokeDash":[2,3]},
"encoding":{"y":{"datum":58.7,"type":"quantitative","scale":{"domain":[30,90],"nice":false,"zero":false},"axis":null},"y2":{"datum":58.7}}},
{"transform":[{"filter":"datum.cat==='SFM'"}],
"mark":{"type":"text","font":"Liberation Serif","fontSize":23,"align":"center","baseline":"alphabetic","dx":-5,"dy":-20,"color":"black"},
"encoding":{"text":{"field":"label"}}},
{"transform":[{"filter":"datum.cat==='TEO'"}],
"mark":{"type":"text","font":"Liberation Serif","fontSize":23,"align":"center","baseline":"alphabetic","dx":-22,"dy":-31,"color":"black"},
"encoding":{"text":{"field":"label"}}},
{"transform":[{"filter":"datum.cat==='MFCC'"}],
"mark":{"type":"text","font":"Liberation Serif","fontSize":23,"align":"center","baseline":"alphabetic","dx":-4,"dy":-23,"color":"black"},
"encoding":{"text":{"field":"label"}}},
{"transform":[{"filter":"datum.cat==='k1'"}],
"mark":{"type":"text","font":"Liberation Serif","fontSize":23,"align":"center","baseline":"alphabetic","dx":-35,"dy":-33,"color":"black"},
"encoding":{"text":{"field":"label"}}},
{"transform":[{"filter":"datum.cat==='NAQ'"}],
"mark":{"type":"text","font":"Liberation Serif","fontSize":23,"align":"center","baseline":"alphabetic","dx":29,"dy":-25,"color":"black"},
"encoding":{"text":{"field":"label"}}}
],
"resolve":{"axis":{"x":"independent","y":"independent"}},
"config":{"view":{"stroke":"black","strokeWidth":1.2},"axis":{"tickColor":"black","tickWidth":1}}
}
